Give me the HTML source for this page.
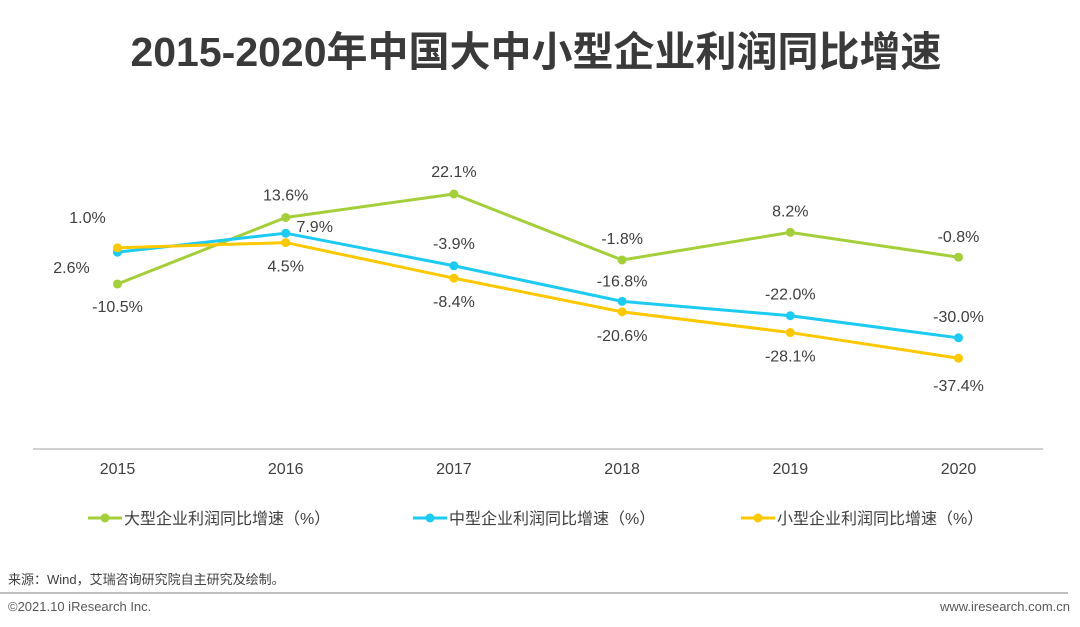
<!DOCTYPE html>
<html><head><meta charset="utf-8">
<style>
body{margin:0;background:#fff;font-family:"Liberation Sans","Noto Sans CJK SC",sans-serif;}
#wrap{position:relative;width:1080px;height:627px;overflow:hidden;}
</style></head>
<body>
<div id="wrap">
<svg id="chart" width="1080" height="627">
<text x="536" y="66" text-anchor="middle" font-size="41" font-weight="bold" fill="#3a3a3a">2015-2020年中国大中小型企业利润同比增速</text>
<line x1="33" y1="449" x2="1043" y2="449" stroke="#a6a6a6" stroke-width="1"/>
<g id="xticks"></g>
<g id="series"></g>
<g id="legend"></g>
<text x="8" y="584" font-size="13" fill="#404040">来源：Wind，艾瑞咨询研究院自主研究及绘制。</text>
<line x1="0" y1="593" x2="1068" y2="593" stroke="#7f7f7f" stroke-width="1"/>
<text x="8" y="611" font-size="13" fill="#595959">©2021.10 iResearch Inc.</text>
<text x="1070" y="611" font-size="13" fill="#595959" text-anchor="end">www.iresearch.com.cn</text>
</svg>
</div>
<script>
const categories=["2015","2016","2017","2018","2019","2020"];
const largeValues=[-10.5,13.6,22.1,-1.8,8.2,-0.8];
const mediumValues=[1.0,7.9,-3.9,-16.8,-22.0,-30.0];
const smallValues=[2.6,4.5,-8.4,-20.6,-28.1,-37.4];
const seriesNames=["大型企业利润同比增速（%）","中型企业利润同比增速（%）","小型企业利润同比增速（%）"];

const NS="http://www.w3.org/2000/svg";
const svg=document.getElementById('chart');
function x(i){return 117.5+i*168.2;}
function y(v){return 255-2.76*v;}
function mk(tag,attrs,parent){const e=document.createElementNS(NS,tag);for(const k in attrs)e.setAttribute(k,attrs[k]);parent.appendChild(e);return e;}

const xt=document.getElementById('xticks');
categories.forEach((c,i)=>{
  const t=mk('text',{x:x(i),y:474,'text-anchor':'middle','font-size':16,fill:'#404040'},xt);
  t.textContent=c;
  
  
});

const series=[
 {vals:largeValues,color:'#a5cf3a',key:'large',off:[[0,23],[0,-22],[0,-22],[0,-21],[0,-21],[0,-20]]},
 {vals:mediumValues,color:'#1ccaf2',key:'medium',off:[[-30,-34],[29,-6],[0,-22],[0,-20],[0,-21],[0,-21]]},
 {vals:smallValues,color:'#fdc800',key:'small',off:[[-46,20],[0,24],[0,24],[0,24],[0,24],[0,28]]}
];
const sg=document.getElementById('series');
series.forEach(s=>{
  const pts=s.vals.map((v,i)=>x(i)+','+y(v)).join(' ');
  const pl=mk('polyline',{points:pts,fill:'none',stroke:s.color,'stroke-width':3,'stroke-linejoin':'round'},sg);
  
  
});
series.forEach(s=>{
  s.vals.forEach((v,i)=>{
    const c=mk('circle',{cx:x(i),cy:y(v),r:4.5,fill:s.color},sg);
    
    
    const t=mk('text',{x:x(i)+s.off[i][0],y:y(v)+s.off[i][1]+5,'text-anchor':'middle','font-size':16,fill:'#404040'},sg);
    t.textContent=v.toFixed(1)+'%';
    
    
  });
});

const lg=document.getElementById('legend');
const lx=[88,413,741];
series.forEach((s,i)=>{
  const g=mk('g',{},lg);
  
  
  mk('line',{x1:lx[i],y1:518,x2:lx[i]+34,y2:518,stroke:s.color,'stroke-width':3},g);
  mk('circle',{cx:lx[i]+17,cy:518,r:4.5,fill:s.color},g);
  const t=mk('text',{x:lx[i]+36,y:524,'font-size':16,fill:'#404040'},g);
  t.textContent=seriesNames[i];
});
</script>
</body></html>
